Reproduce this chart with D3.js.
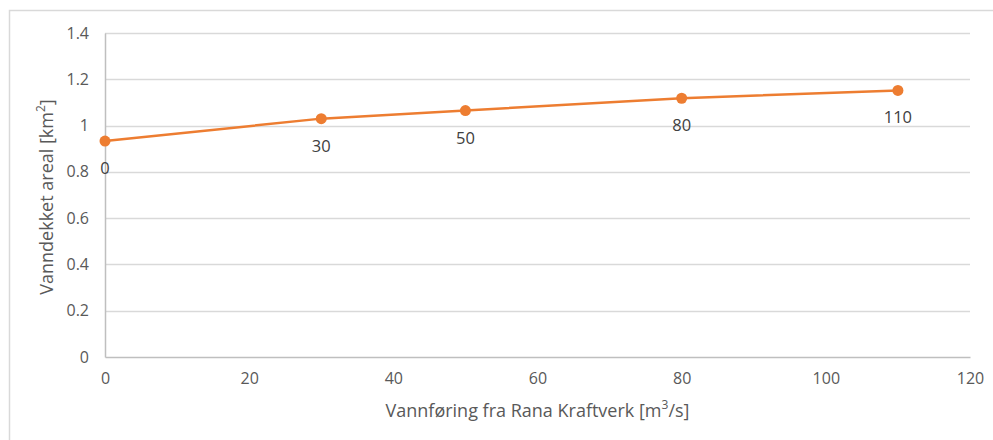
<!DOCTYPE html>
<html>
<head>
<meta charset="utf-8">
<script src="https://cdn.jsdelivr.net/npm/d3@7"></script>
<style>
  body { margin: 0; background: #fff; }
  svg { display: block; font-family: "Open Sans", "Noto Sans", sans-serif; }
</style>
</head>
<body>
<div id="chart"></div>
<script>
// Vannføring (m3/s) mot vanndekket areal (km2)
const flows = [0, 30, 50, 80, 110];
const areas = [0.933, 1.03, 1.065, 1.118, 1.152];
const xTicks = [0, 20, 40, 60, 80, 100, 120];
const yTicks = [0, 0.2, 0.4, 0.6, 0.8, 1, 1.2, 1.4];

const width = 993, height = 440;
const margin = { top: 33, right: 23, bottom: 83, left: 105 };
const innerWidth = width - margin.left - margin.right;
const innerHeight = height - margin.top - margin.bottom;

const svg = d3.select('#chart').append('svg')
  .attr('width', width)
  .attr('height', height);

// ramme rundt diagrammet
svg.append('path')
  .attr('fill', 'none')
  .attr('stroke', '#d9d9d9')
  .attr('stroke-width', 1.5)
  .attr('d', `M9.5,${height}V10.5H${width}`);

const g = svg.append('g').attr('transform', `translate(${margin.left},${margin.top})`);

const x = d3.scaleLinear().domain([0, 120]).range([0, innerWidth]);
const y = d3.scaleLinear().domain([0, 1.4]).range([innerHeight, 0]);

// --- Rutenett ---
g.append('g')
  .selectAll('line')
  .data(yTicks.filter(d => d > 0))
  .join('line')
  .attr('x1', 0)
  .attr('x2', innerWidth)
  .attr('y1', d => Math.round(y(d)) + 0.5)
  .attr('y2', d => Math.round(y(d)) + 0.5)
  .attr('stroke', '#d9d9d9')
  .attr('stroke-width', 1.5);

// --- Akser ---
const yAxis = g.append('g')
  .call(d3.axisLeft(y).tickValues(yTicks).tickSize(0).tickPadding(16).tickFormat(d => String(d)));
yAxis.attr('font-size', 16).attr('font-family', null);
yAxis.select('.domain').attr('stroke', '#bfbfbf').attr('stroke-width', 1.5);
yAxis.selectAll('text').attr('fill', '#595959');

const xAxis = g.append('g')
  .attr('transform', `translate(0,${innerHeight})`)
  .call(d3.axisBottom(x).tickValues(xTicks).tickSize(0).tickPadding(16));
xAxis.attr('font-size', 16).attr('font-family', null);
xAxis.select('.domain').attr('stroke', '#bfbfbf').attr('stroke-width', 1.5);
xAxis.selectAll('text').attr('fill', '#595959');

// --- Aksetitler ---
svg.append('text')
  .attr('transform', `translate(53,${margin.top + innerHeight / 2 + 2}) rotate(-90)`)
  .attr('text-anchor', 'middle')
  .attr('fill', '#595959')
  .attr('font-size', '18px')
  .html('Vanndekket areal [km<tspan baseline-shift="super" font-size="12px">2</tspan>]');

svg.append('text')
  .attr('x', margin.left + innerWidth / 2)
  .attr('y', 417)
  .attr('text-anchor', 'middle')
  .attr('fill', '#595959')
  .attr('font-size', '18px')
  .html('Vannføring fra Rana Kraftverk [m<tspan baseline-shift="super" font-size="12px">3</tspan>/s]');

// --- Linje og punkter ---
const data = flows.map((f, i) => ({ f, a: areas[i] }));

g.append('path')
  .datum(data)
  .attr('fill', 'none')
  .attr('stroke', '#ed7d31')
  .attr('stroke-width', 2.5)
  .attr('d', d3.line().x(d => x(d.f)).y(d => y(d.a)));

g.append('g')
  .selectAll('circle')
  .data(data)
  .join('circle')
  .attr('cx', d => x(d.f))
  .attr('cy', d => y(d.a))
  .attr('r', 5.5)
  .attr('fill', '#ed7d31');

// dataetiketter under punktene
g.append('g')
  .selectAll('text')
  .data(data)
  .join('text')
  .attr('x', d => x(d.f))
  .attr('y', d => y(d.a) + 33)
  .attr('text-anchor', 'middle')
  .attr('fill', '#404040')
  .attr('font-size', '16.5px')
  .text(d => d.f);
</script>
</body>
</html>
